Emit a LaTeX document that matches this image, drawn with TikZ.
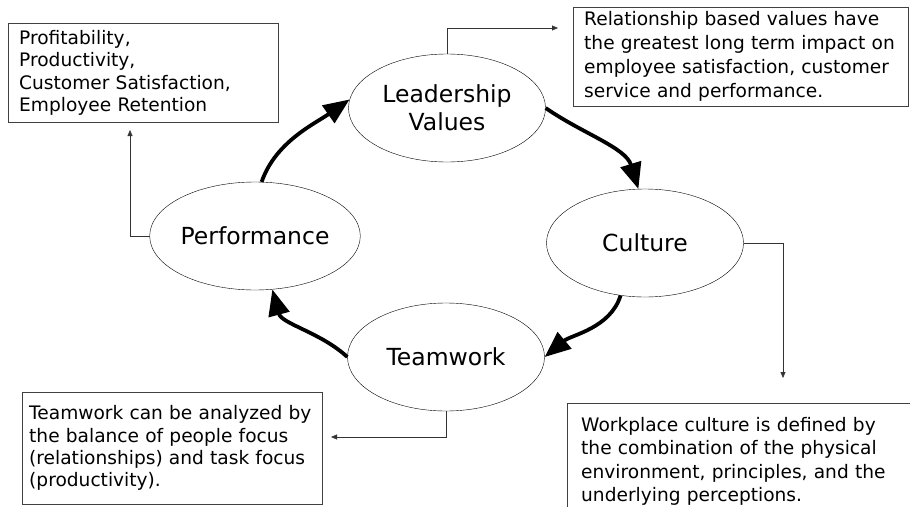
\documentclass[tikz,border=0pt]{standalone}
\usepackage{fontspec}
\setmainfont{DejaVu Sans}
\usepackage{tikz}
\usetikzlibrary{shapes.geometric, arrows.meta, positioning}
\tikzset{
    stagebox/.style={ellipse, draw=black, thin, minimum width=197pt, minimum height=108pt,
        inner sep=0pt, text centered, align=center, font=\fontsize{23.5}{28}\selectfont},
    notebox/.style={rectangle, draw=black!75, thin, anchor=north west, inner xsep=11pt,
        align=left, font=\fontsize{18.6}{22.4}\selectfont},
    cyclearrow/.style={-{Triangle[length=26pt, width=21pt]}, line width=3.8pt, black},
    notearrow/.style={-{Triangle[length=6pt, width=5pt]}, thin, black!80},
}

\begin{document}
\begin{tikzpicture}[x=1pt, y=1pt]
    \clip (0,0) rectangle (910,-506);

    % the four stages
    \node[stagebox] (lead) at (447,-108) {Leadership\\Values};
    \node[stagebox] (cult) at (645,-243) {Culture};
    \node[stagebox] (team) at (446,-357) {Teamwork};
    \node[stagebox] (perf) at (255,-236) {Performance};

    % the cycle
    \draw[cyclearrow] (perf.83) to[out=71, in=215, looseness=0.9] (lead.175);
    \draw[cyclearrow] (lead.east) to[out=-35, in=107, looseness=0.9] (cult.97);
    \draw[cyclearrow] (cult.245) to[out=253, in=40, looseness=0.9] (team.east);
    \draw[cyclearrow] (team.west) to[out=137, in=285, looseness=0.9] (perf.288);

    % notes
    \node[notebox, minimum width=270pt, minimum height=99pt, text width=248pt] (profbox) at (8,-23)
        {Profitability,\\Productivity,\\Customer Satisfaction,\\Employee Retention};
    \node[notebox, minimum width=335pt, minimum height=99pt, text width=313pt,
        font=\fontsize{18.6}{24}\selectfont] (relbox) at (573,-7)
        {Relationship based values have\\the greatest long term impact on\\employee satisfaction, customer\\service and performance.};
    \node[notebox, minimum width=300pt, minimum height=112pt, text width=286pt, inner xsep=7pt] (teambox) at (22,-392)
        {Teamwork can be analyzed by\\the balance of people focus\\(relationships) and task focus\\(productivity).};
    \node[notebox, minimum width=400pt, minimum height=116pt, text width=372pt, inner xsep=14pt,
        font=\fontsize{18.6}{23.4}\selectfont] (workbox) at (567,-403)
        {Workplace culture is defined by\\the combination of the physical\\environment, principles, and the\\underlying perceptions.};

    \coordinate (leadtip) at (558,-28);
    \coordinate (perftip) at (130,-130);
    \coordinate (culttip) at (783,-378);
    \coordinate (teamtip) at (331,-437);

    \draw[notearrow] (lead.north) |- (leadtip);
    \draw[notearrow] (perf.west) -| (perftip);
    \draw[notearrow] (cult.east) -| (culttip);
    \draw[notearrow] (team.south) |- (teamtip);
\end{tikzpicture}
\end{document}
